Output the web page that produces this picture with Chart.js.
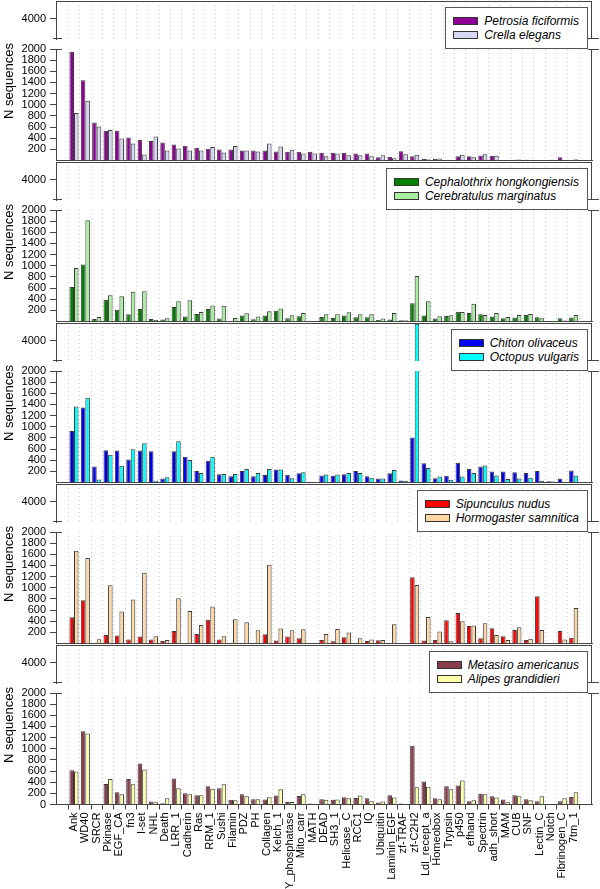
<!DOCTYPE html>
<html>
<head>
<meta charset="utf-8">
<script src="https://cdn.jsdelivr.net/npm/chart.js@4/dist/chart.umd.min.js"></script>
<style>
  body { margin: 0; background: #fff; width: 600px; height: 889px; position: relative; overflow: hidden;
         font-family: "Liberation Sans", Arial, sans-serif; }
  canvas { position: absolute; left: 0; }
  .legend { position: absolute; right: 12px; background: #fff; border: 1px solid #555;
            padding: 6px 8px 6px 7px; font: italic 12px "Liberation Sans", Arial, sans-serif; z-index: 2; }
  .legend .row { display: flex; align-items: center; height: 14px; white-space: nowrap; }
  .legend .swatch { width: 23px; height: 6px; border: 1px solid #333; margin-right: 6px; }
  .ytitle { position: absolute; left: -51px; width: 120px; height: 16px; line-height: 16px; text-align: center;
            font-size: 13px; transform: rotate(-90deg); z-index: 2; }
</style>
</head>
<body>
<script>
const categories = ['Ank', 'WD40', 'SRCR', 'Pkinase', 'EGF_CA', 'fn3', 'I-set', 'NHL', 'Death', 'LRR_1',
  'Cadherin', 'Ras', 'RRM_1', 'Sushi', 'Filamin', 'PDZ', 'PH', 'Collagen', 'Kelch_1', 'Y_phosphatase',
  'Mito_carr', 'MATH', 'DEAD', 'SH3_1', 'Helicase_C', 'RCC1', 'IQ', 'Ubiquitin', 'Laminin_EGF', 'zf-TRAF',
  'zf-C2H2', 'Ldl_recept_a', 'Homeobox', 'Trypsin', 'p450', 'efhand', 'Spectrin', 'adh_short', 'MAM', 'CUB',
  'SNF', 'Lectin_C', 'Notch', 'Fibrinogen_C', '7tm_1'];

const petrosia = [1950, 1440, 680, 535, 535, 414, 372, 348, 324, 288, 264, 228, 210, 198, 198, 180, 180, 180, 162, 156,
  156, 156, 138, 138, 138, 126, 126, 60, 66, 168, 78, 30, 30, 5, 78, 78, 90, 84, 0, 12, 12, 0, 5, 60, 5];
const crella = [850, 1070, 612, 546, 396, 306, 108, 432, 180, 216, 180, 180, 240, 144, 258, 180, 162, 306, 252, 192,
  126, 126, 78, 126, 96, 96, 78, 96, 42, 114, 102, 24, 36, 5, 102, 60, 114, 84, 0, 18, 12, 0, 12, 2, 24];
const cephalothrix = [617, 1023, 47, 388, 212, 130, 223, 47, 35, 259, 88, 135, 223, 53, 0, 106, 40, 106, 194, 59,
  94, 15, 82, 65, 106, 76, 76, 29, 35, 24, 329, 106, 53, 100, 176, 153, 130, 88, 59, 70, 118, 76, 0, 59, 70];
const cerebratulus = [958, 1817, 82, 470, 453, 535, 541, 29, 59, 365, 382, 170, 288, 282, 65, 147, 90, 182, 235, 112,
  153, 5, 130, 130, 165, 130, 130, 53, 153, 24, 817, 365, 94, 112, 170, 318, 118, 153, 82, 118, 135, 59, 0, 18, 118];
const chiton = [925, 1346, 285, 580, 575, 414, 575, 562, 70, 562, 462, 206, 390, 147, 110, 206, 110, 135, 232, 141,
  166, 15, 125, 119, 149, 208, 113, 71, 166, 36, 808, 345, 77, 119, 356, 244, 285, 196, 196, 184, 172, 208, 24, 71, 214];
const octopus = [1365, 1520, 52, 499, 300, 598, 705, 33, 93, 742, 402, 170, 462, 153, 153, 242, 170, 242, 232, 77,
  184, 10, 143, 143, 172, 172, 83, 71, 226, 30, 4310, 261, 107, 48, 107, 172, 303, 125, 65, 71, 83, 30, 18, 12, 125];
const sipunculus = [469, 778, 0, 154, 142, 71, 125, 71, 47, 225, 5, 172, 428, 71, 5, 10, 8, 166, 53, 125,
  95, 5, 65, 40, 113, 0, 47, 59, 10, 10, 1190, 53, 65, 416, 546, 315, 95, 273, 130, 243, 65, 849, 0, 225, 101];
const hormogaster = [1663, 1532, 77, 1045, 576, 790, 1271, 130, 65, 813, 582, 332, 665, 130, 434, 380, 237, 1413, 267, 237,
  255, 5, 172, 261, 196, 95, 71, 65, 344, 0, 1050, 475, 214, 40, 398, 321, 362, 154, 65, 291, 83, 243, 0, 71, 636];
const metasiro = [616, 1314, 10, 367, 219, 456, 734, 53, 24, 468, 201, 166, 326, 290, 83, 184, 95, 89, 160, 47,
  154, 18, 95, 83, 130, 118, 112, 36, 166, 18, 1054, 414, 112, 326, 343, 59, 195, 148, 89, 166, 95, 59, 5, 59, 136];
const alipes = [592, 1273, 5, 456, 184, 361, 628, 41, 112, 290, 184, 166, 284, 361, 77, 148, 95, 130, 272, 47,
  184, 6, 83, 89, 112, 160, 59, 53, 124, 6, 308, 320, 95, 272, 432, 77, 184, 124, 41, 148, 77, 148, 5, 112, 219];

const lowerTicks = [200, 400, 600, 800, 1000, 1200, 1400, 1600, 1800, 2000];
const upperTicks = [4000];

const panels = [
  { series: [petrosia, crella], names: ['Petrosia ficiformis', 'Crella elegans'], colors: ['#8e0096', '#d6d6f5'] },
  { series: [cephalothrix, cerebratulus], names: ['Cephalothrix hongkongiensis', 'Cerebratulus marginatus'], colors: ['#008200', '#a8f0a0'] },
  { series: [chiton, octopus], names: ['Chiton olivaceus', 'Octopus vulgaris'], colors: ['#0000f0', '#00ffff'] },
  { series: [sipunculus, hormogaster], names: ['Sipunculus nudus', 'Hormogaster samnitica'], colors: ['#ff0000', '#ffd7a5'] },
  { series: [metasiro, alipes], names: ['Metasiro americanus', 'Alipes grandidieri'], colors: ['#8b3c4b', '#ffffaa'] }
];

Chart.defaults.font.family = '"Liberation Sans", Arial, sans-serif';
Chart.defaults.color = '#000';

const STEP = 161;
const LINE = '#444';

// box lines + axis break marks
const framePlugin = {
  id: 'frame',
  afterDraw(chart, args, opts) {
    const { ctx, chartArea: a } = chart;
    const r = Math.round(a.right) - 0.5;
    ctx.save();
    ctx.strokeStyle = LINE;
    ctx.lineWidth = 1;
    ctx.beginPath();
    ctx.moveTo(r, a.top);
    ctx.lineTo(r, a.bottom);
    let y;
    if (opts.upper) {
      const t = Math.round(a.top) + 0.5;
      ctx.moveTo(a.left, t);
      ctx.lineTo(a.right, t);
      y = Math.round(a.bottom) - 0.5;
    } else {
      y = Math.round(a.top) + 0.5;
    }
    ctx.moveTo(a.left - 3, y);
    ctx.lineTo(a.left + 6, y);
    ctx.moveTo(a.right - 4, y);
    ctx.lineTo(a.right + 7, y);
    ctx.stroke();
    ctx.restore();
  }
};

function addChart(top, height, padTop, padBottom, upper, panel, last) {
  const canvas = document.createElement('canvas');
  canvas.width = 600;
  canvas.height = height;
  canvas.style.top = top + 'px';
  document.body.appendChild(canvas);

  const labels = last && !upper;
  let yTicks = upper ? upperTicks : lowerTicks;
  if (labels) yTicks = [0].concat(lowerTicks);

  new Chart(canvas, {
    type: 'bar',
    data: {
      datasets: panel.series.map((s, j) => ({
        label: panel.names[j],
        data: s.map((v, i) => ({ x: i, y: v })),
        backgroundColor: panel.colors[j],
        borderColor: '#3a3a3a',
        borderWidth: 1,
        clip: 0,
        categoryPercentage: 0.8,
        barPercentage: 1
      }))
    },
    options: {
      responsive: false,
      animation: false,
      devicePixelRatio: 1,
      layout: { padding: { top: padTop, bottom: padBottom, left: 0, right: 8 } },
      plugins: {
        legend: { display: false },
        tooltip: { enabled: false },
        frame: { upper: upper }
      },
      scales: {
        x: {
          type: 'linear',
          min: -1.06,
          max: 45.09,
          afterBuildTicks: ax => { ax.ticks = categories.map((c, i) => ({ value: i })); },
          afterFit: ax => { ax.height = labels ? 84.5 : 0; },
          grid: { color: '#cccccc', drawTicks: labels, tickLength: 5, tickColor: LINE },
          border: { display: !upper, color: LINE, dash: [1, 3] },
          ticks: {
            display: labels, autoSkip: false, maxRotation: 90, minRotation: 90, padding: 3,
            font: { size: 11 },
            callback: v => categories[v]
          }
        },
        y: {
          min: upper ? 3641 : 0,
          max: upper ? 4323 : 2000,
          afterBuildTicks: ax => { ax.ticks = yTicks.map(v => ({ value: v })); },
          afterFit: ax => { ax.width = 56; },
          grid: { drawOnChartArea: false, tickLength: 6, color: LINE },
          border: { color: LINE },
          ticks: { padding: 4, autoSkip: false, font: { size: 11 }, callback: v => String(v) }
        }
      }
    },
    plugins: [framePlugin]
  });
}

function addLegend(panel, top) {
  const box = document.createElement('div');
  box.className = 'legend';
  box.style.top = top + 'px';
  panel.names.forEach((n, j) => {
    const row = document.createElement('div');
    row.className = 'row';
    const sw = document.createElement('span');
    sw.className = 'swatch';
    sw.style.background = panel.colors[j];
    const tx = document.createElement('span');
    tx.textContent = n;
    row.append(sw, tx);
    box.appendChild(row);
  });
  document.body.appendChild(box);
}

function addTitle(top) {
  const t = document.createElement('div');
  t.className = 'ytitle';
  t.textContent = 'N sequences';
  t.style.top = (top + 79.5 - 8) + 'px';
  document.body.appendChild(t);
}

panels.forEach((p, k) => {
  const panelTop = 1 + STEP * k;
  const last = k === panels.length - 1;
  // upper band (around 4000): chart area panelTop .. panelTop+38
  addChart(panelTop - 14, 66, 14, 14, true, p, last);
  // lower band 0..2000: chart area panelTop+48 .. panelTop+159.5
  if (last) addChart(panelTop + 34, 889 - (panelTop + 34), 14, 0, false, p, last);
  else addChart(panelTop + 34, 140, 14, 14.5, false, p, last);
  addLegend(p, panelTop + 6);
  addTitle(panelTop);
});
</script>
</body>
</html>
